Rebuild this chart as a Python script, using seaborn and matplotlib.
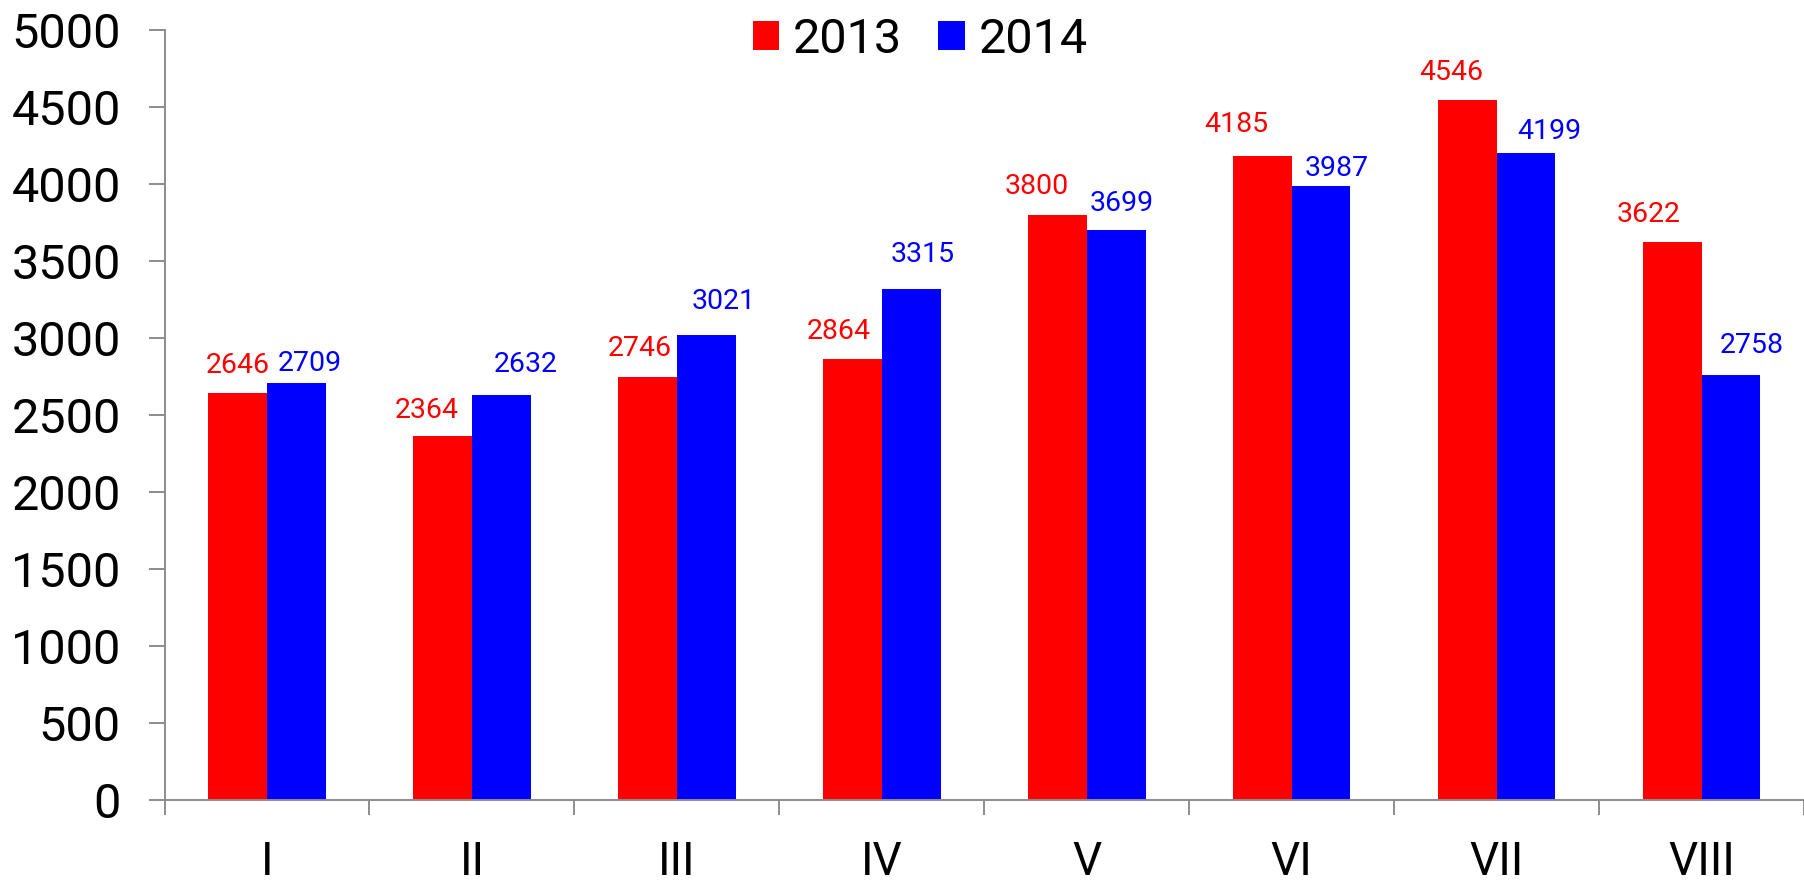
import matplotlib
matplotlib.use('Agg')
import matplotlib.pyplot as plt
import pandas as pd
import seaborn as sns

# data
months = ['I', 'II', 'III', 'IV', 'V', 'VI', 'VII', 'VIII']
years = ['2013', '2014']
values_2013 = [2646, 2364, 2746, 2864, 3800, 4185, 4546, 3622]
values_2014 = [2709, 2632, 3021, 3315, 3699, 3987, 4199, 2758]
y_ticks = [0, 500, 1000, 1500, 2000, 2500, 3000, 3500, 4000, 4500, 5000]

colors = {'2013': '#ff0000', '2014': '#0000ff'}

# label offsets (pixels) the way the labels sit in the original
offsets_2013 = [(0, 27), (-16, 25), (-8, 29), (-14, 27), (-21, 28), (-26, 31), (-16, 27), (-24, 28)]
offsets_2014 = [(13, 19), (24, 30), (17, 33), (11, 35), (6, 27), (16, 18), (23, 22), (21, 30)]

df = pd.DataFrame({
    'month': months * 2,
    'year': ['2013'] * len(months) + ['2014'] * len(months),
    'value': values_2013 + values_2014,
})

sns.set_style('white')
plt.rcParams['font.family'] = ['Roboto', 'DejaVu Sans']
plt.rcParams['text.color'] = 'black'
plt.rcParams['xtick.color'] = 'black'
plt.rcParams['ytick.color'] = 'black'

fig = plt.figure(figsize=(18.04, 8.96), dpi=100)
ax = fig.add_axes([164.5 / 1804, 96 / 896, (1804 - 164.5) / 1804, 770 / 896])

sns.barplot(data=df, x='month', y='value', hue='year', order=months,
            hue_order=years, palette=colors, width=0.574, gap=0,
            saturation=1, edgecolor='none', ax=ax)

# data labels
px = 0.72
for year, vals, offs in [('2013', values_2013, offsets_2013), ('2014', values_2014, offsets_2014)]:
    container = ax.containers[years.index(year)]
    for bar, v, (dx, dy) in zip(container, vals, offs):
        xc = bar.get_x() + bar.get_width() / 2
        ax.annotate(str(v), xy=(xc, bar.get_height()), xytext=(dx * px, dy * px),
                    textcoords='offset points', ha='center', va='center',
                    fontsize=20.5, color=colors[year])

ax.set_ylim(0, 5000)
ax.set_yticks(y_ticks)
ax.set_xlim(-0.5, 7.5 - 7 / 205.8)

# ticks between categories, labels centred under each group
ax.set_xticks([i - 0.5 for i in range(len(months) + 1)])
ax.set_xticklabels([])
ax.set_xticks(range(len(months)), minor=True)
ax.set_xticklabels(months, minor=True)
ax.tick_params(axis='x', which='major', bottom=True, length=11, width=1.4,
               color='#8c8c8c', direction='out')
ax.tick_params(axis='x', which='minor', bottom=True, length=0, pad=29, labelsize=33,
               labelcolor='black')
ax.tick_params(axis='y', left=True, length=11.5, width=1.4, color='#8c8c8c',
               direction='out', pad=20, labelsize=35, labelcolor='black')

ax.set_xlabel('')
ax.set_ylabel('')

sns.despine(ax=ax, top=True, right=True)
for side in ['left', 'bottom']:
    ax.spines[side].set_color('#8c8c8c')
    ax.spines[side].set_linewidth(1.4)

handles, labels = ax.get_legend_handles_labels()
leg = ax.legend(handles, labels, loc='center', bbox_to_anchor=(920 / 1804, 1 - 40 / 896),
                bbox_transform=fig.transFigure, ncol=2, frameon=False, fontsize=35,
                handlelength=0.55, handleheight=0.55, handletextpad=0.27,
                columnspacing=0.76, borderpad=0)
for t in leg.get_texts():
    t.set_color('black')

fig.savefig('out.png', dpi=100, facecolor='white')
